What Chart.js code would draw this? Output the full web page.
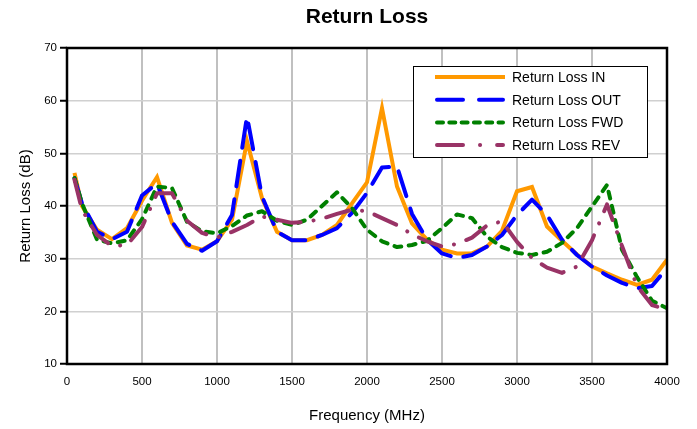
<!DOCTYPE html>
<html>
<head>
<meta charset="utf-8">
<script src="https://cdn.jsdelivr.net/npm/chart.js@4.4.1/dist/chart.umd.min.js"></script>
<style>
  html, body { margin: 0; padding: 0; background: #fff; }
  #wrap { width: 697px; height: 429px; position: relative; }
</style>
</head>
<body>
<div id="wrap"><canvas id="c" width="697" height="429"></canvas></div>
<script>
const frequencies = [50, 100, 200, 300, 400, 500, 600, 700, 800, 900, 1000, 1100, 1200, 1300, 1400, 1500, 1600, 1700, 1800, 1900, 2000, 2100, 2200, 2300, 2400, 2500, 2600, 2700, 2800, 2900, 3000, 3100, 3200, 3300, 3400, 3500, 3600, 3700, 3800, 3900, 4000];
const returnLossIN  = [46.3, 40, 35.5, 33.7, 35.8, 41, 45.5, 36.8, 32.5, 31.7, 33.3, 37.4, 52.3, 41.5, 35.1, 33.5, 33.5, 34.5, 36.4, 40.5, 44.5, 58.6, 43.7, 36.7, 33.6, 31.7, 31, 31, 32.3, 35.3, 42.8, 43.6, 36.1, 33.4, 30.8, 28.5, 27.2, 26, 25, 26, 29.8];
const returnLossOUT = [45.3, 40.5, 35.1, 33.7, 35.1, 42, 44.3, 37, 32.8, 31.5, 33.3, 38.3, 57, 41.8, 35.1, 33.5, 33.5, 34.5, 35.8, 38.7, 42.5, 47.3, 47.5, 38.5, 33.6, 31, 30.1, 30.7, 32.3, 34.5, 38.3, 41.2, 38.3, 33.6, 30.7, 28.5, 26.8, 25.4, 24.4, 24.8, 28.2];
const returnLossFWD = [45.3, 40.5, 33.6, 32.9, 33.5, 37.5, 43.7, 43.4, 37, 35.2, 34.8, 36.2, 38.2, 39, 37.2, 36.4, 37.4, 40, 42.6, 39.6, 35.5, 33.3, 32.2, 32.6, 33.4, 35.8, 38.4, 37.7, 34.2, 32.2, 31.1, 30.7, 31.3, 33, 35.8, 39.9, 44, 31.7, 26.5, 22, 20.6];
const returnLossREV = [45, 39.3, 34.5, 32.4, 32.6, 36, 42.4, 42.4, 37.2, 34.9, 34, 35.1, 36.4, 38, 37.4, 36.8, 37, 37.6, 38.5, 39.3, 39, 37.7, 36.4, 34.6, 33.3, 32.3, 32.8, 34, 36.3, 37.1, 33.2, 30.1, 28.3, 27.3, 28.5, 33.5, 40.3, 32.4, 24.8, 21.2, 20.3];
const seriesLabels = ['Return Loss IN', 'Return Loss OUT', 'Return Loss FWD', 'Return Loss REV'];
const yTicks = [10, 20, 30, 40, 50, 60, 70];
const xTicks = [0, 500, 1000, 1500, 2000, 2500, 3000, 3500, 4000];

const FONT = "'Liberation Sans', Arial, Helvetica, sans-serif";

function pts(vals) { return frequencies.map((f, i) => ({x: f, y: vals[i]})); }

const styles = [
  {color: '#FF9900', dash: [], cap: 'butt', join: 'miter'},
  {color: '#0000FF', dash: [26, 13], cap: 'round', join: 'round'},
  {color: '#008000', dash: [7, 7.5], cap: 'round', join: 'round'},
  {color: '#993366', dash: [24, 13, 0.1, 13], cap: 'round', join: 'round'}
];
const values = [returnLossIN, returnLossOUT, returnLossFWD, returnLossREV];

const datasets = values.map((v, i) => ({
  label: seriesLabels[i],
  data: pts(v),
  borderColor: styles[i].color,
  backgroundColor: styles[i].color,
  borderWidth: 4,
  borderDash: styles[i].dash,
  borderCapStyle: styles[i].cap,
  borderJoinStyle: styles[i].join,
  pointRadius: 0,
  pointHoverRadius: 0,
  tension: 0,
  fill: false,
  order: values.length - i
}));

const framePlugin = {
  id: 'frame',
  afterDatasetsDraw(chart) {
    const {ctx, chartArea: a} = chart;
    ctx.save();
    ctx.strokeStyle = '#000';
    ctx.lineWidth = 2.5;
    ctx.strokeRect(a.left, a.top, a.right - a.left, a.bottom - a.top);
    ctx.restore();
  }
};

const boxLegend = {
  id: 'boxLegend',
  afterDraw(chart, args, opts) {
    const {ctx, chartArea: a} = chart;
    const left = a.right - opts.offsetRight - opts.width;
    const top = a.top + opts.offsetTop;
    ctx.save();
    ctx.fillStyle = '#fff';
    ctx.fillRect(left, top, opts.width, opts.height);
    ctx.strokeStyle = '#000';
    ctx.lineWidth = 1;
    ctx.strokeRect(left + 0.5, top + 0.5, opts.width, opts.height);
    ctx.font = opts.fontSize + 'px ' + FONT;
    ctx.textBaseline = 'middle';
    chart.data.datasets.forEach((ds, i) => {
      const y = top + opts.firstRow + i * opts.rowGap;
      const capped = ds.borderCapStyle === 'round';
      ctx.beginPath();
      ctx.strokeStyle = ds.borderColor;
      ctx.lineWidth = ds.borderWidth;
      ctx.lineCap = ds.borderCapStyle;
      ctx.setLineDash(opts.dashes[i]);
      ctx.moveTo(left + opts.lineStart + (capped ? 2 : 0), y);
      ctx.lineTo(left + opts.lineEnd - (capped ? 2 : 0), y);
      ctx.stroke();
      ctx.setLineDash([]);
      ctx.fillStyle = '#000';
      ctx.fillText(ds.label, left + opts.textX, y + 1);
    });
    ctx.restore();
  }
};

new Chart(document.getElementById('c'), {
  type: 'line',
  data: { datasets },
  options: {
    responsive: false,
    animation: false,
    devicePixelRatio: 1,
    layout: { padding: { left: 0, right: 30, top: 0, bottom: 0 } },
    plugins: {
      legend: { display: false },
      tooltip: { enabled: false },
      title: {
        display: true,
        fullSize: false,
        text: 'Return Loss',
        color: '#000',
        font: { family: FONT, size: 21, weight: 'bold', lineHeight: 1.2 },
        padding: { top: 5, bottom: 17.8 }
      },
      boxLegend: {
        width: 234, height: 91, offsetRight: 20, offsetTop: 18,
        firstRow: 11, rowGap: 22.7, lineStart: 22, lineEnd: 92, textX: 99, fontSize: 14,
        dashes: [[], [26, 16], [6, 6.3], [26, 17, 0.1, 17]]
      }
    },
    scales: {
      x: {
        type: 'linear',
        min: 0, max: 4000,
        afterBuildTicks(scale) { scale.ticks = xTicks.map(v => ({value: v})); },
        afterFit(scale) { scale.height = 65; },
        grid: { color: '#C0C0C0', lineWidth: 2, drawTicks: false },
        border: { display: false },
        ticks: { color: '#000', padding: 11, font: { family: FONT, size: 11.5 }, maxRotation: 0,
                 callback: v => String(v) },
        title: {
          display: true, text: 'Frequency (MHz)', color: '#000',
          font: { family: FONT, size: 15, lineHeight: 1.2 },
          padding: { top: 0, bottom: 4 }
        }
      },
      y: {
        type: 'linear',
        min: 10, max: 70,
        afterBuildTicks(scale) { scale.ticks = yTicks.map(v => ({value: v})); },
        afterFit(scale) { scale.width = 67; },
        grid: { color: '#D0D0D0', lineWidth: 1.5, drawTicks: true, tickLength: 7, tickColor: '#000', tickWidth: 2 },
        border: { display: false },
        ticks: { color: '#000', padding: 3, font: { family: FONT, size: 11.5 }, callback: v => String(v) },
        title: {
          display: true, text: 'Return Loss (dB)', color: '#000',
          font: { family: FONT, size: 15, lineHeight: 1.2 },
          padding: { top: 17, bottom: 0 }
        }
      }
    }
  },
  plugins: [framePlugin, boxLegend]
});
</script>
</body>
</html>
